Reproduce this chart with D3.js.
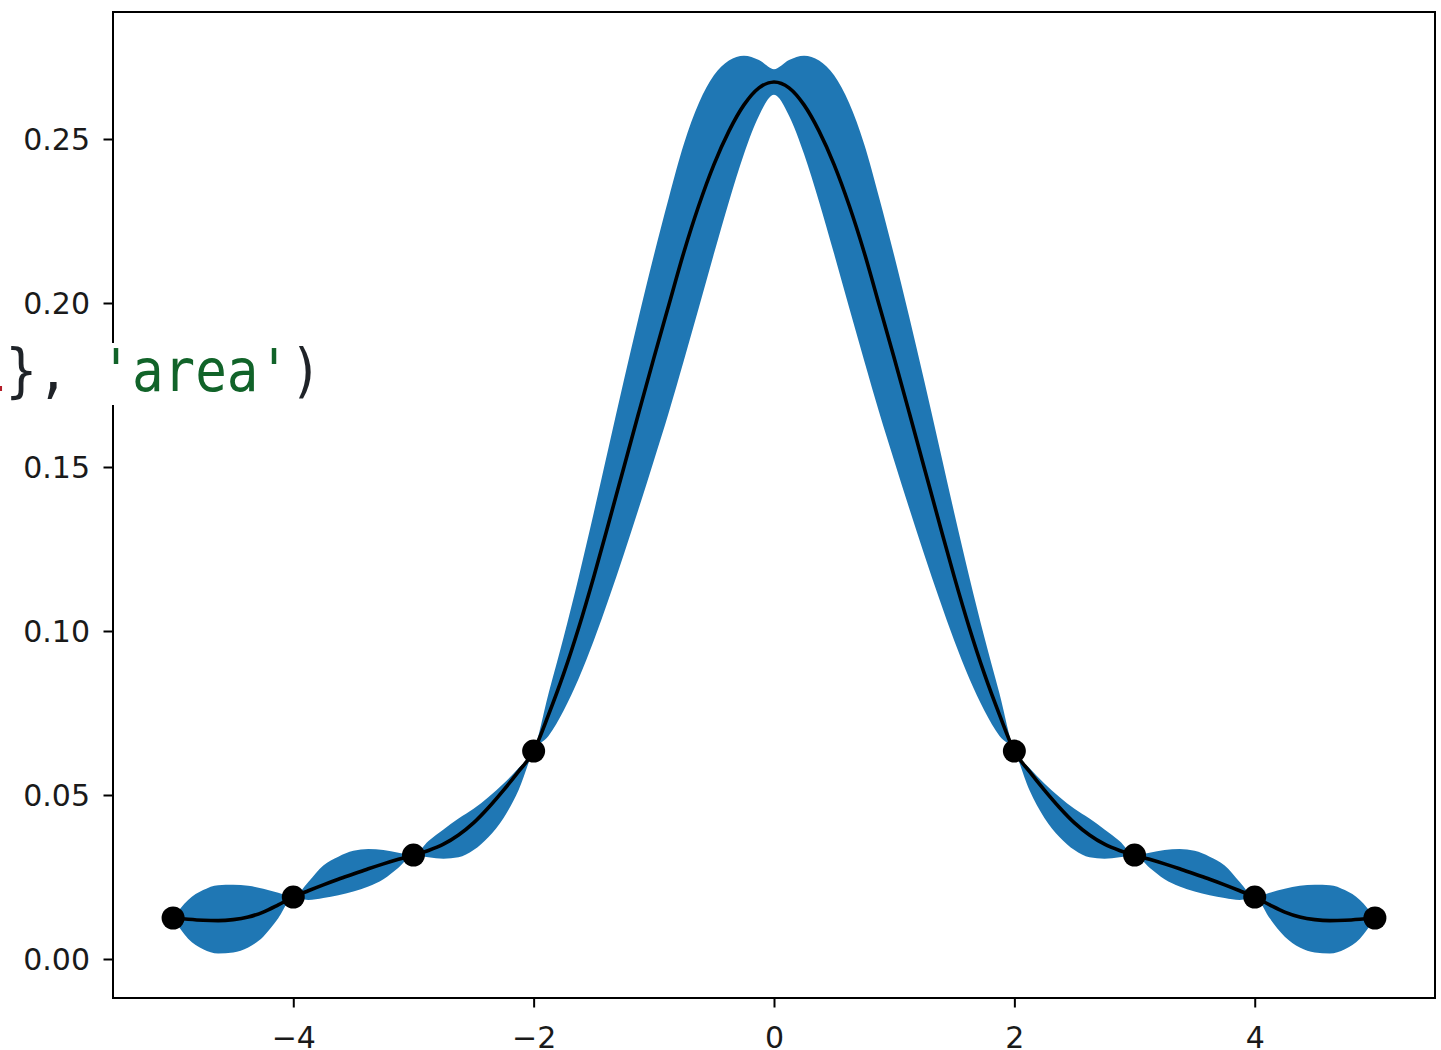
<!DOCTYPE html>
<html>
<head>
<meta charset="utf-8">
<script src="https://cdn.jsdelivr.net/npm/d3@7"></script>
<style>
  html, body { margin: 0; padding: 0; background: #fff; }
  svg { display: block; }
</style>
</head>
<body>
<svg id="chart" width="1441" height="1050"></svg>
<script>
// ---- data ----
const xs = [-5,-4.875,-4.75,-4.625,-4.5,-4.375,-4.25,-4.125,-4,-3.875,-3.75,-3.625,-3.5,-3.375,-3.25,-3.125,-3,-2.875,-2.75,-2.625,-2.5,-2.375,-2.25,-2.125,-2,-1.875,-1.75,-1.625,-1.5,-1.375,-1.25,-1.125,-1,-0.875,-0.75,-0.625,-0.5,-0.375,-0.25,-0.125,0,0.125,0.25,0.375,0.5,0.625,0.75,0.875,1,1.125,1.25,1.375,1.5,1.625,1.75,1.875,2,2.125,2.25,2.375,2.5,2.625,2.75,2.875,3,3.125,3.25,3.375,3.5,3.625,3.75,3.875,4,4.125,4.25,4.375,4.5,4.625,4.75,4.875,5];

const meanValues = [0.0125,0.0121,0.0118,0.0117,0.0120,0.0128,0.0143,0.0165,0.0189,
  0.0208,0.0226,0.0243,0.0259,0.0275,0.0290,0.0304,0.0317,
  0.0331,0.0350,0.0378,0.0415,0.0462,0.0515,0.0572,0.0634,
  0.0746,0.0870,0.1010,0.1165,0.1330,0.1498,0.1666,0.1832,0.1994,0.2155,0.2298,0.2422,0.2524,0.2604,0.2656,0.2674,
  0.2656,0.2604,0.2524,0.2422,0.2298,0.2155,0.1994,0.1832,0.1666,0.1498,0.1330,0.1165,0.1010,0.0870,0.0746,0.0634,
  0.0572,0.0515,0.0462,0.0415,0.0378,0.0350,0.0331,0.0317,
  0.0304,0.0290,0.0275,0.0259,0.0243,0.0226,0.0208,0.0189,
  0.0165,0.0143,0.0128,0.0120,0.0117,0.0118,0.0121,0.0125];

const upperValues = [0.0125,0.0180,0.0210,0.0225,0.0226,0.0223,0.0214,0.0202,0.0189,
  0.0235,0.0285,0.0312,0.0330,0.0335,0.0332,0.0324,0.0317,
  0.0360,0.0395,0.0428,0.0458,0.0494,0.0535,0.0582,0.0634,
  0.0811,0.0982,0.1165,0.1360,0.1562,0.1763,0.1958,0.2145,0.2321,0.2485,0.2610,0.2694,0.2739,0.2754,0.2741,0.2713,
  0.2741,0.2754,0.2739,0.2694,0.2610,0.2485,0.2321,0.2145,0.1958,0.1763,0.1562,0.1360,0.1165,0.0982,0.0811,0.0634,
  0.0582,0.0535,0.0494,0.0458,0.0428,0.0395,0.0360,0.0317,
  0.0324,0.0332,0.0335,0.0330,0.0312,0.0285,0.0235,0.0189,
  0.0202,0.0214,0.0223,0.0226,0.0225,0.0210,0.0180,0.0125];

const lowerValues = [0.0125,0.0062,0.0030,0.0017,0.0020,0.0035,0.0068,0.0124,0.0189,
  0.0180,0.0186,0.0194,0.0206,0.0221,0.0243,0.0278,0.0317,
  0.0310,0.0306,0.0310,0.0332,0.0372,0.0430,0.0515,0.0634,
  0.0681,0.0758,0.0855,0.0970,0.1098,0.1233,0.1374,0.1519,0.1667,0.1825,0.1986,0.2150,0.2309,0.2454,0.2571,0.2635,
  0.2571,0.2454,0.2309,0.2150,0.1986,0.1825,0.1667,0.1519,0.1374,0.1233,0.1098,0.0970,0.0855,0.0758,0.0681,0.0634,
  0.0515,0.0430,0.0372,0.0332,0.0310,0.0306,0.0310,0.0317,
  0.0278,0.0243,0.0221,0.0206,0.0194,0.0186,0.0180,0.0189,
  0.0124,0.0068,0.0035,0.0020,0.0017,0.0030,0.0062,0.0125];

const pointX = [-5, -4, -3, -2, 2, 3, 4, 5];
const pointY = [0.0125, 0.0189, 0.0317, 0.0634, 0.0634, 0.0317, 0.0189, 0.0125];

const xTicks = [-4, -2, 0, 2, 4];
const xTickLabels = ["\u22124", "\u22122", "0", "2", "4"];
const yTicks = [0, 0.05, 0.10, 0.15, 0.20, 0.25];
const yTickLabels = ["0.00", "0.05", "0.10", "0.15", "0.20", "0.25"];

const codeParts = [
  { text: "1", color: "#b31d28" },
  { text: "}, ", color: "#1f2328" },
  { text: "'area'", color: "#116329" },
  { text: ")", color: "#1f2328" }
];

// ---- layout ----
const plot = { left: 113, right: 1435, top: 12, bottom: 998 };
const svg = d3.select("#chart");

const x = d3.scaleLinear().domain([-5.5, 5.5]).range([plot.left, plot.right]);
const y = d3.scaleLinear().domain([-0.01189, 0.28872]).range([plot.bottom, plot.top]);

const series = xs.map((xv, i) => ({ x: xv, m: meanValues[i], lo: lowerValues[i], hi: upperValues[i] }));

svg.append("rect").attr("width", 1441).attr("height", 1050).attr("fill", "#fff");

// band
svg.append("path")
  .datum(series)
  .attr("fill", "#1f77b4")
  .attr("d", d3.area()
    .x(d => x(d.x))
    .y0(d => y(d.lo))
    .y1(d => y(d.hi))
    .curve(d3.curveMonotoneX));

// mean line
svg.append("path")
  .datum(series)
  .attr("fill", "none")
  .attr("stroke", "#000")
  .attr("stroke-width", 3.6)
  .attr("d", d3.line()
    .x(d => x(d.x))
    .y(d => y(d.m))
    .curve(d3.curveMonotoneX));

// points
svg.append("g").selectAll("circle")
  .data(pointX.map((px, i) => ({ x: px, y: pointY[i] })))
  .join("circle")
  .attr("cx", d => x(d.x))
  .attr("cy", d => y(d.y))
  .attr("r", 11.5)
  .attr("fill", "#000");

// axes
const xAxis = d3.axisBottom(x).tickValues(xTicks)
  .tickFormat((d, i) => xTickLabels[i]).tickSizeOuter(0).tickSize(9.5).tickPadding(0);
const yAxis = d3.axisLeft(y).tickValues(yTicks)
  .tickFormat((d, i) => yTickLabels[i]).tickSizeOuter(0).tickSize(9.5).tickPadding(0);

const gx = svg.append("g").attr("transform", `translate(0,${plot.bottom})`).call(xAxis);
gx.select(".domain").remove();
gx.selectAll(".tick line").attr("stroke", "#000").attr("stroke-width", 2);
gx.selectAll(".tick text")
  .attr("y", 50)
  .attr("dy", null)
  .attr("font-family", "DejaVu Sans")
  .attr("font-size", 30)
  .attr("fill", "#1a1a1a");

const gy = svg.append("g").attr("transform", `translate(${plot.left},0)`).call(yAxis);
gy.select(".domain").remove();
gy.selectAll(".tick line").attr("stroke", "#000").attr("stroke-width", 2);
gy.selectAll(".tick text")
  .attr("x", -23)
  .attr("dy", "0.36em")
  .attr("font-family", "DejaVu Sans")
  .attr("font-size", 30)
  .attr("fill", "#1a1a1a");

// frame (spines)
svg.append("rect")
  .attr("x", plot.left).attr("y", plot.top)
  .attr("width", plot.right - plot.left).attr("height", plot.bottom - plot.top)
  .attr("fill", "none").attr("stroke", "#000").attr("stroke-width", 2);

// overlaid code fragment
svg.append("rect").attr("x", 0).attr("y", 343).attr("width", 320).attr("height", 62).attr("fill", "#fff");
const code = svg.append("g").attr("transform", "translate(-26,391) scale(0.905,1)")
  .append("text")
  .attr("font-family", "DejaVu Sans Mono")
  .attr("font-size", 58)
  .style("white-space", "pre");
code.selectAll("tspan").data(codeParts).join("tspan")
  .attr("fill", d => d.color)
  .text(d => d.text);
</script>
</body>
</html>
